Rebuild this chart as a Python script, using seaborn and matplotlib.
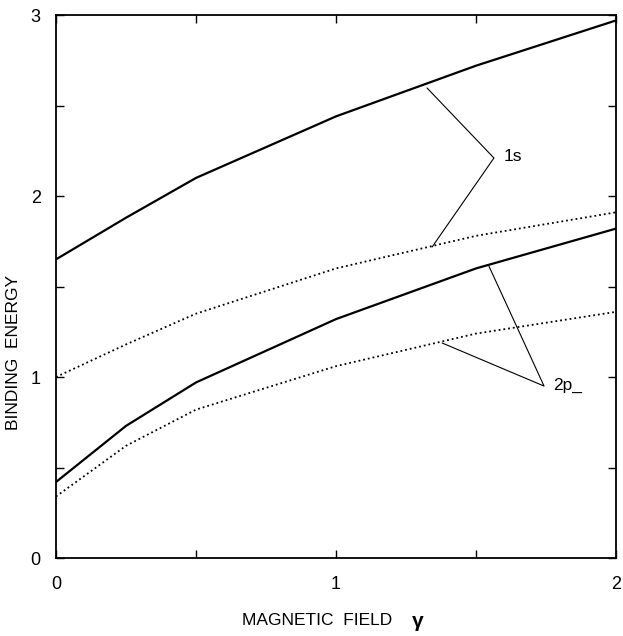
import matplotlib
matplotlib.use("Agg")
import matplotlib.pyplot as plt
import seaborn as sns
import pandas as pd
import numpy as np

# data
gamma = [0.0, 0.25, 0.5, 1.0, 1.5, 2.0]
e_1s_solid = [1.65, 1.88, 2.10, 2.44, 2.72, 2.97]
e_1s_dotted = [1.00, 1.18, 1.35, 1.60, 1.78, 1.91]
e_2p_solid = [0.42, 0.73, 0.97, 1.32, 1.60, 1.82]
e_2p_dotted = [0.34, 0.62, 0.82, 1.06, 1.24, 1.36]

series_names = ["1s solid", "1s dotted", "2p solid", "2p dotted"]
series_vals = [e_1s_solid, e_1s_dotted, e_2p_solid, e_2p_dotted]

df = pd.concat([pd.DataFrame({"gamma": gamma, "E": v, "series": n})
                for n, v in zip(series_names, series_vals)], ignore_index=True)

sns.set_style("ticks")
plt.rcParams['font.family'] = ['Liberation Sans', 'DejaVu Sans']
plt.rcParams['text.color'] = 'black'
plt.rcParams['axes.labelcolor'] = 'black'

fig = plt.figure(figsize=(6.23, 6.36), dpi=100)
ax = fig.add_axes([0.0899, 0.1226, 0.8989, 0.8538])

styles = {"1s solid": "-", "1s dotted": ":", "2p solid": "-", "2p dotted": ":"}
widths = {"1s solid": 1.6, "1s dotted": 1.3, "2p solid": 1.6, "2p dotted": 1.3}
for n in series_names:
    sub = df[df.series == n]
    sns.lineplot(data=sub, x="gamma", y="E", ax=ax, color="black",
                 linestyle=styles[n], linewidth=widths[n], legend=False)

ax.set_xlim(0, 2)
ax.set_ylim(0, 3)
ax.set_xticks([0, 1, 2])
ax.set_yticks([0, 1, 2, 3])
ax.set_xticks([0.5, 1.5], minor=True)
ax.set_yticks([0.5, 1.5, 2.5], minor=True)
ax.set_xticklabels(["0", "1", "2"])
ax.set_yticklabels(["0", "1", "2", "3"])
ax.tick_params(which="both", direction="in", top=True, right=True,
               length=6, width=1, labelsize=13, colors="black")
ax.tick_params(axis="x", pad=13)
ax.tick_params(axis="y", pad=11)
for s in ax.spines.values():
    s.set_linewidth(1.3)
    s.set_color("black")

ax.set_xlabel("")
ax.set_ylabel("BINDING  ENERGY", fontsize=12.5, color="black")
ax.yaxis.set_label_coords(-0.062, 0.379)

fig.text(0.509, 0.025, "MAGNETIC  FIELD", fontsize=12.5, ha="center", va="center")
fig.text(0.671, 0.023, "γ", fontsize=15, fontweight="bold", ha="center", va="center")

# annotations
tip1 = (1.564, 2.21)
ax.plot([1.325, tip1[0], 1.343], [2.597, tip1[1], 1.718], color="black", lw=0.8)
ax.text(1.60, 2.22, "1s", fontsize=12.5, ha="left", va="center")

tip2 = (1.743, 0.95)
ax.plot([1.546, tip2[0], 1.379], [1.613, tip2[1], 1.188], color="black", lw=0.8)
ax.text(1.775, 0.955, "2p_", fontsize=12.5, ha="left", va="center")

fig.savefig("out.png", dpi=100, facecolor="white")
